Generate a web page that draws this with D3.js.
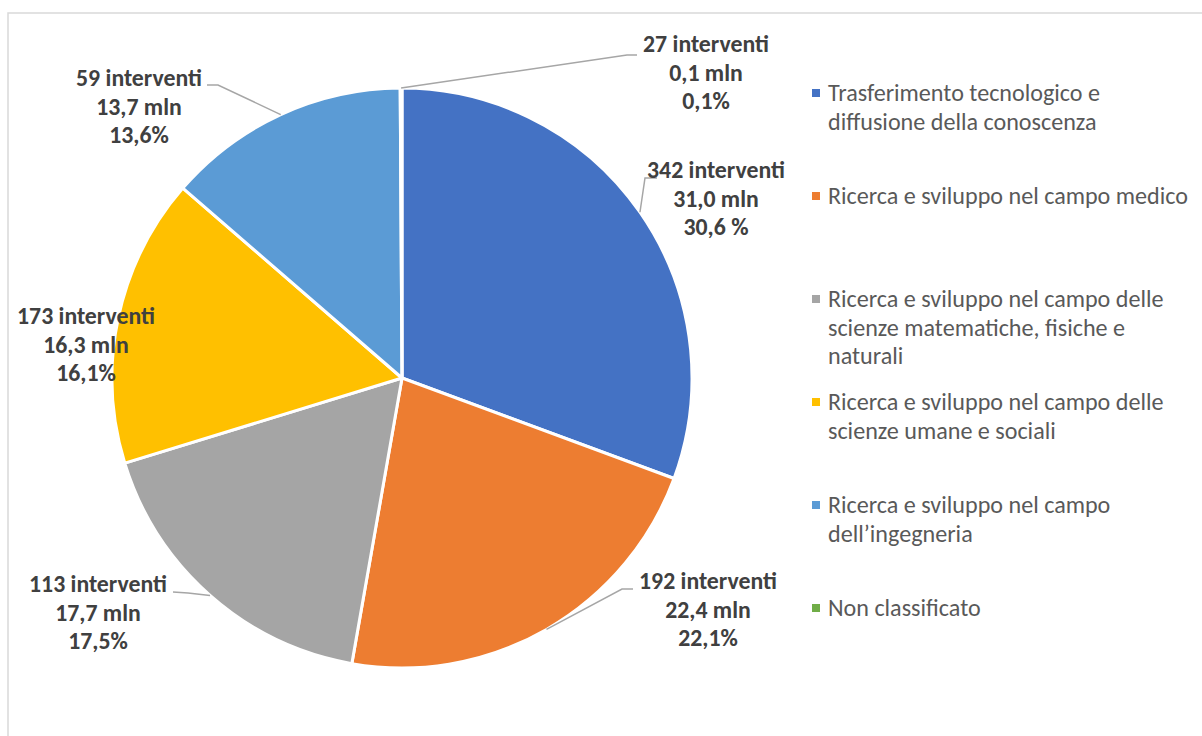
<!DOCTYPE html>
<html>
<head>
<meta charset="utf-8">
<script src="https://cdn.jsdelivr.net/npm/d3@7/dist/d3.min.js"></script>
<style>
  html, body { margin: 0; padding: 0; background: #fff; }
  svg { display: block; }
</style>
</head>
<body>
<svg id="chart" width="1202" height="736"></svg>
<script>
// ---- data ----
const categories = [
  "Trasferimento tecnologico e diffusione della conoscenza",
  "Ricerca e sviluppo nel campo medico",
  "Ricerca e sviluppo nel campo delle scienze matematiche, fisiche e naturali",
  "Ricerca e sviluppo nel campo delle scienze umane e sociali",
  "Ricerca e sviluppo nel campo dell\u2019ingegneria",
  "Non classificato"
];
const legendLines = [
  ["Trasferimento tecnologico e", "diffusione della conoscenza"],
  ["Ricerca e sviluppo nel campo medico"],
  ["Ricerca e sviluppo nel campo delle", "scienze matematiche, fisiche e", "naturali"],
  ["Ricerca e sviluppo nel campo delle", "scienze umane e sociali"],
  ["Ricerca e sviluppo nel campo", "dell\u2019ingegneria"],
  ["Non classificato"]
];
const valuesMln = [31.0, 22.4, 17.7, 16.3, 13.7, 0.1];
const interventi = [342, 192, 113, 173, 59, 27];
const mlnLabels = ["31,0", "22,4", "17,7", "16,3", "13,7", "0,1"];
const pctLabels = ["30,6 %", "22,1%", "17,5%", "16,1%", "13,6%", "0,1%"];
const colors = ["#4472C4", "#ED7D31", "#A5A5A5", "#FFC000", "#5B9BD5", "#70AD47"];

// ---- layout ----
const W = 1202, H = 736;
const cx = 402, cy = 378, R = 290;
// label block positions (center x, first baseline y) and leader elbows (relative to label)
const labelPos = [
  {x: 716, y: 178, elbow: [[645, 178], [657, 178]]},
  {x: 708, y: 589, elbow: [[622, 589], [633, 589]]},
  {x: 98,  y: 592, elbow: [[188, 593], [173, 592]]},
  {x: 86,  y: 324, elbow: null},
  {x: 139, y: 86,  elbow: [[218, 85], [207, 85]]},
  {x: 706, y: 52,  elbow: [[627, 55], [637, 55]]}
];
const lineH = 28.5;

const svg = d3.select("#chart");
const fontFam = "Carlito, Calibri, Lato, 'Open Sans', sans-serif";

// fit font sizes to the reference text widths
function fitSize(text, weight, targetW) {
  const t = svg.append("text").attr("font-family", fontFam).attr("font-weight", weight)
    .attr("font-size", 20).text(text);
  const w = t.node().getComputedTextLength();
  t.remove();
  return 20 * targetW / w;
}
const legendSize = fitSize("Ricerca e sviluppo nel campo medico", "normal", 360);
const labelSize = fitSize("113 interventi", "bold", 138);

// frame
svg.append("rect").attr("x", 8).attr("y", 13).attr("width", 1200).attr("height", 730)
  .attr("fill", "#fff").attr("stroke", "#D9D9D9").attr("stroke-width", 1.5);

const pie = d3.pie().sort(null).value(d => d);
const arcs = pie(valuesMln);
const arc = d3.arc().innerRadius(0).outerRadius(R);

const g = svg.append("g").attr("transform", `translate(${cx},${cy})`);
g.selectAll("path.slice").data(arcs).join("path")
  .attr("class", "slice")
  .attr("d", arc)
  .attr("fill", (d, i) => colors[i])
  .attr("stroke", "#fff").attr("stroke-width", 3).attr("stroke-linejoin", "round");

// leader lines
arcs.forEach((d, i) => {
  const lp = labelPos[i];
  if (!lp.elbow) return;
  const a = (d.startAngle + d.endAngle) / 2;
  const p0 = [cx + R * Math.sin(a), cy - R * Math.cos(a)];
  const pts = [p0].concat(lp.elbow);
  svg.append("path").attr("d", d3.line()(pts))
    .attr("fill", "none").attr("stroke", "#A6A6A6").attr("stroke-width", 1.5);
});

// data labels
arcs.forEach((d, i) => {
  const lp = labelPos[i];
  const t = svg.append("text").attr("text-anchor", "middle")
    .attr("font-family", fontFam).attr("font-weight", "bold")
    .attr("font-size", labelSize).attr("fill", "#404040");
  [interventi[i] + " interventi", mlnLabels[i] + " mln", pctLabels[i]].forEach((s, k) => {
    t.append("tspan").attr("x", lp.x).attr("y", lp.y + k * lineH).text(s);
  });
});

// legend
const legY0 = 93, legStep = 103, legX = 812;
legendLines.forEach((lines, i) => {
  const y = legY0 + i * legStep;
  svg.append("rect").attr("x", legX).attr("y", y - 4).attr("width", 8).attr("height", 8)
    .attr("fill", colors[i]);
  const t = svg.append("text").attr("font-family", fontFam).attr("font-size", legendSize)
    .attr("fill", "#595959");
  lines.forEach((s, k) => {
    t.append("tspan").attr("x", legX + 16).attr("y", y + 8 + k * 28.5).text(s);
  });
});
</script>
</body>
</html>
